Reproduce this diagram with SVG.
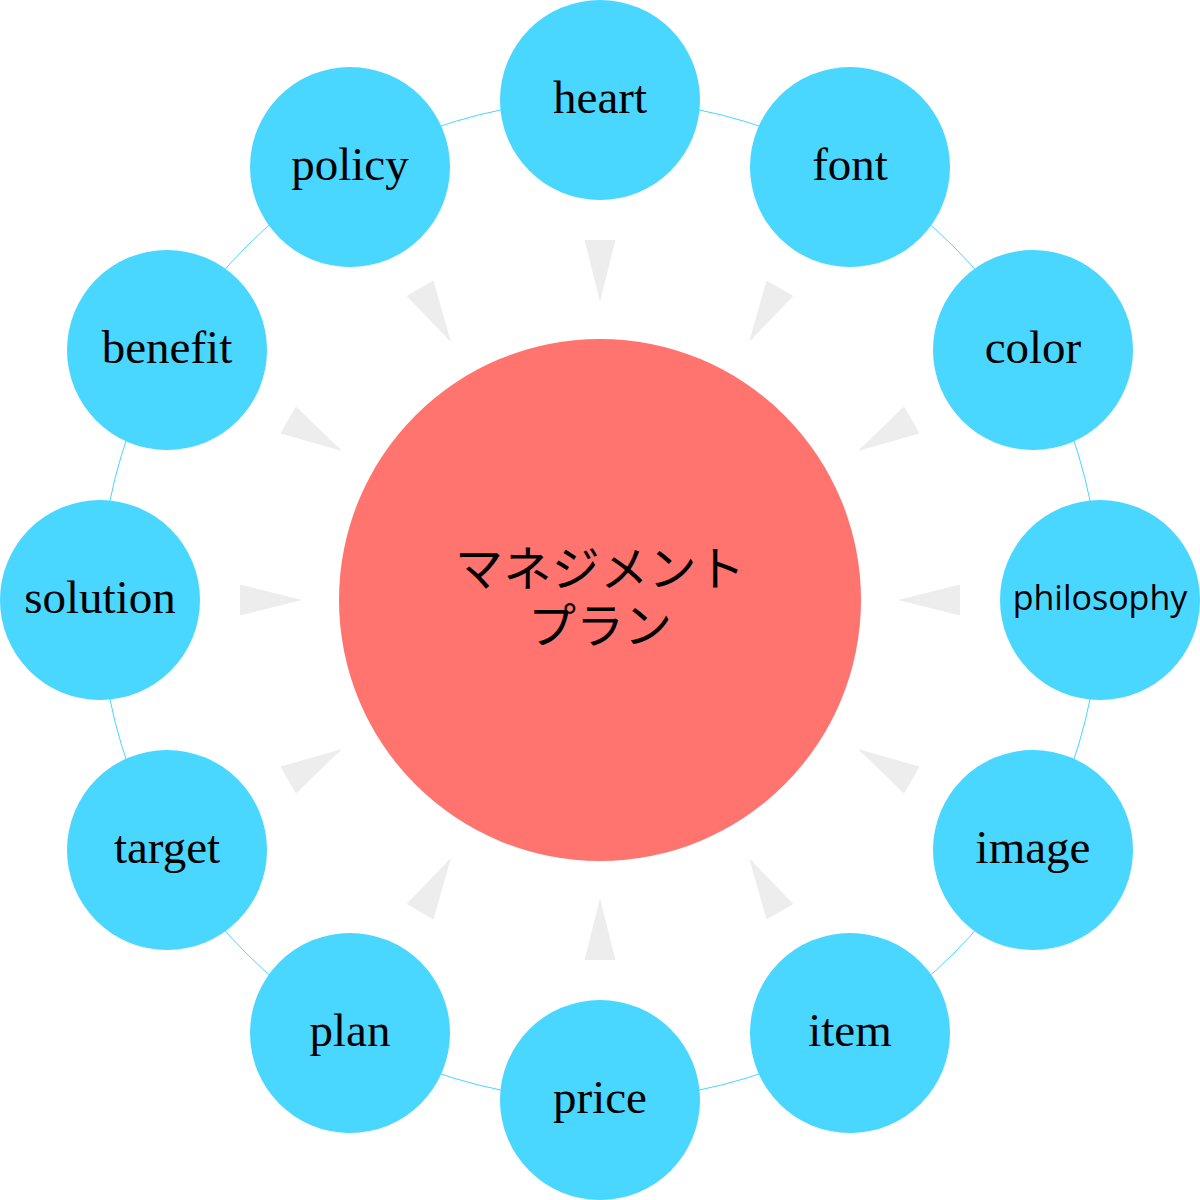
<svg xmlns="http://www.w3.org/2000/svg" width="1200" height="1200" viewBox="0 0 1200 1200">
<style>
.ring{fill:none;stroke:#49D6FF;stroke-width:1}
.node{fill:#49D6FF}
.lbl{font-family:"Liberation Serif","Times New Roman",serif;font-size:47px;fill:#000;text-anchor:middle}
.lbls{font-family:"Open Sans","Noto Sans",sans-serif;font-size:34px;fill:#000;text-anchor:middle}
.ctr{fill:#FF746E}
.ctxt{font-family:"Noto Sans CJK JP","Noto Sans CJK SC",sans-serif;font-size:48px;fill:#000;text-anchor:middle}
.tri{fill:#EDEDED}
</style>
<defs>
<polygon id="tri" class="tri" points="584.5,240 615.5,240 600,302"/>
</defs>
<circle class="ring" cx="600" cy="600" r="500"/>
<g id="connectors">
<use href="#tri" transform="rotate(0 600 600)"/>
<use href="#tri" transform="rotate(30 600 600)"/>
<use href="#tri" transform="rotate(60 600 600)"/>
<use href="#tri" transform="rotate(90 600 600)"/>
<use href="#tri" transform="rotate(120 600 600)"/>
<use href="#tri" transform="rotate(150 600 600)"/>
<use href="#tri" transform="rotate(180 600 600)"/>
<use href="#tri" transform="rotate(210 600 600)"/>
<use href="#tri" transform="rotate(240 600 600)"/>
<use href="#tri" transform="rotate(270 600 600)"/>
<use href="#tri" transform="rotate(300 600 600)"/>
<use href="#tri" transform="rotate(330 600 600)"/>
</g>
<g id="center"><circle class="ctr" cx="600" cy="600" r="261"/><text class="ctxt" x="600" y="586" textLength="290" lengthAdjust="spacing">マネジメント</text><text class="ctxt" x="600" y="643">プラン</text></g>
<g id="heart"><circle class="node" cx="600" cy="100" r="100"/><text class="lbl" x="600" y="113">heart</text></g>
<g id="font"><circle class="node" cx="850" cy="167" r="100"/><text class="lbl" x="850" y="180">font</text></g>
<g id="color"><circle class="node" cx="1033" cy="350" r="100"/><text class="lbl" x="1033" y="363">color</text></g>
<g id="philosophy"><circle class="node" cx="1100" cy="600" r="100"/><text class="lbls" x="1100" y="610">philosophy</text></g>
<g id="image"><circle class="node" cx="1033" cy="850" r="100"/><text class="lbl" x="1033" y="863">image</text></g>
<g id="item"><circle class="node" cx="850" cy="1033" r="100"/><text class="lbl" x="850" y="1046">item</text></g>
<g id="price"><circle class="node" cx="600" cy="1100" r="100"/><text class="lbl" x="600" y="1113">price</text></g>
<g id="plan"><circle class="node" cx="350" cy="1033" r="100"/><text class="lbl" x="350" y="1046">plan</text></g>
<g id="target"><circle class="node" cx="167" cy="850" r="100"/><text class="lbl" x="167" y="863">target</text></g>
<g id="solution"><circle class="node" cx="100" cy="600" r="100"/><text class="lbl" x="100" y="613">solution</text></g>
<g id="benefit"><circle class="node" cx="167" cy="350" r="100"/><text class="lbl" x="167" y="363">benefit</text></g>
<g id="policy"><circle class="node" cx="350" cy="167" r="100"/><text class="lbl" x="350" y="180">policy</text></g>
</svg>
